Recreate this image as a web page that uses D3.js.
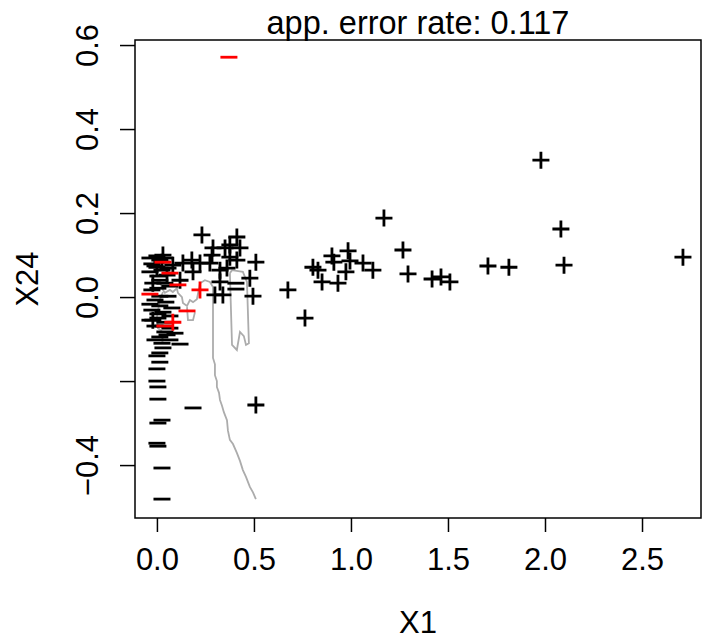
<!DOCTYPE html>
<html>
<head>
<meta charset="utf-8">
<script src="https://cdn.jsdelivr.net/npm/d3@7"></script>
<style>
  body { margin: 0; background: #fff; }
  text { font-family: "Liberation Sans", Arial, sans-serif; fill: #000; }
</style>
</head>
<body>
<svg id="chart"></svg>
<script>
const chartSize = { width: 702, height: 641 };
const frame = { left: 135, right: 701, top: 40, bottom: 518 };

const title = "app. error rate: 0.117";
const xLabel = "X1";
const yLabel = "X24";
const xDomain = [-0.113, 2.804];
const yDomain = [-0.526, 0.612];
const xTicks = [0, 0.5, 1, 1.5, 2, 2.5];
const xTickLabels = ["0.0", "0.5", "1.0", "1.5", "2.0", "2.5"];
const yTicks = [-0.4, -0.2, 0, 0.2, 0.4, 0.6];
const yTickLabels = ["\u22120.4", "", "0.0", "0.2", "0.4", "0.6"];

// class "+" correctly classified
const plusOk = [
  [1.979, 0.326], [2.082, 0.162], [2.098, 0.076], [2.711, 0.095],
  [1.170, 0.188], [1.268, 0.112], [1.294, 0.055], [1.418, 0.043],
  [1.464, 0.048], [1.510, 0.036], [1.706, 0.074], [1.814, 0.071],
  [1.113, 0.064], [1.062, 0.081], [0.985, 0.110], [0.995, 0.086],
  [0.902, 0.098], [0.912, 0.083], [0.974, 0.060], [0.933, 0.033],
  [0.851, 0.036], [0.804, 0.071], [0.830, 0.064], [0.675, 0.017],
  [0.510, 0.083], [0.479, 0.045], [0.495, 0.002], [0.412, 0.143],
  [0.428, 0.117], [0.412, 0.088], [0.763, -0.050], [0.510, -0.257],
  [0.232, 0.148], [0.376, 0.124], [0.289, 0.117], [0.351, 0.117],
  [0.284, 0.100], [0.376, 0.095], [0.180, 0.088], [0.134, 0.081],
  [0.222, 0.081], [0.273, 0.081], [0.325, 0.064], [0.361, 0.069],
  [0.186, 0.060], [0.031, 0.100], [0.026, 0.083], [0.000, 0.071],
  [0.325, 0.036], [0.340, 0.005], [0.299, 0.005], [0.082, 0.076],
  [-0.021, 0.033], [-0.021, -0.055], [0.052, 0.052], [0.119, 0.040]
];
// class "+" misclassified
const plusErr = [[0.222, 0.017], [0.082, -0.060]];
// class "-" correctly classified
const minusOk = [
  [0.000, 0.098], [0.015, 0.088], [-0.010, 0.074], [0.026, 0.064],
  [0.005, 0.050], [0.041, 0.033], [0.005, 0.021], [0.067, 0.026],
  [0.015, 0.002], [-0.010, -0.007], [0.046, -0.012], [0.015, -0.021],
  [-0.026, -0.031], [0.031, -0.036], [0.067, -0.045], [0.005, -0.050],
  [0.041, -0.060], [-0.010, -0.069], [0.067, -0.074], [0.041, -0.083],
  [0.052, -0.090], [0.015, -0.095], [0.026, -0.110], [0.119, -0.112],
  [0.031, -0.121], [0.015, -0.133], [0.000, -0.140], [0.015, -0.155],
  [0.000, -0.171], [0.000, -0.200], [0.005, -0.214], [0.005, -0.243],
  [0.186, -0.264], [0.026, -0.293], [0.005, -0.300], [0.000, -0.348],
  [0.005, -0.355], [0.026, -0.407], [0.026, -0.481], [0.407, 0.033],
  [0.407, 0.019], [-0.036, 0.093], [0.041, 0.093], [-0.026, 0.079],
  [0.057, 0.069], [-0.036, 0.060], [0.015, 0.040], [-0.026, 0.017],
  [0.057, 0.002], [-0.036, -0.017], [0.077, -0.026], [0.005, -0.040],
  [-0.036, -0.055], [0.031, -0.069], [0.093, -0.086], [-0.010, -0.102],
  [0.067, -0.102]
];
// class "-" misclassified
const minusErr = [
  [0.371, 0.571], [-0.036, 0.007], [0.067, 0.057], [0.155, -0.033],
  [0.041, -0.069], [0.031, 0.083], [0.108, 0.029]
];

// partition boundary
const boundaries = [
  [[-0.010, 0.040], [0.015, 0.036], [0.031, 0.017], [0.041, 0.010],
   [0.067, 0.017], [0.082, 0.012], [0.103, 0.021], [0.108, 0.010],
   [0.129, 0.000], [0.134, -0.014], [0.155, -0.021], [0.170, -0.007],
   [0.186, -0.012], [0.206, -0.005], [0.222, 0.033], [0.247, 0.040],
   [0.273, 0.036], [0.289, 0.024], [0.289, -0.145], [0.299, -0.160],
   [0.299, -0.186], [0.309, -0.200], [0.309, -0.214], [0.320, -0.228],
   [0.325, -0.245], [0.335, -0.258], [0.345, -0.274], [0.361, -0.293],
   [0.366, -0.318], [0.376, -0.340], [0.392, -0.350], [0.412, -0.371],
   [0.428, -0.390], [0.443, -0.412], [0.459, -0.428], [0.479, -0.452],
   [0.495, -0.465], [0.510, -0.481]],
  [[0.031, 0.012], [0.015, -0.007], [0.000, -0.048], [0.005, -0.074],
   [0.026, -0.081]],
  [[0.155, -0.024], [0.160, -0.055], [0.186, -0.055], [0.196, -0.036]],
  [[0.376, 0.057], [0.387, -0.114], [0.412, -0.126], [0.428, -0.083],
   [0.448, -0.093], [0.459, -0.114], [0.474, -0.110], [0.464, 0.036],
   [0.443, 0.060], [0.387, 0.064], [0.376, 0.057]]
];

const plusPath = "M-8.5,0H8.5M0,-8.5V8.5";
const minusPath = "M-8.5,0H8.5";

const main = () => {
  const svg = d3.select("#chart")
    .attr("width", chartSize.width)
    .attr("height", chartSize.height);

  const x = d3.scaleLinear().domain(xDomain).range([frame.left, frame.right]);
  const y = d3.scaleLinear().domain(yDomain).range([frame.bottom, frame.top]);

  const line = d3.line().x(d => x(d[0])).y(d => y(d[1]));

  svg.append("g")
    .selectAll("path")
    .data(boundaries)
    .join("path")
    .attr("d", line)
    .attr("fill", "none")
    .attr("stroke", "#acacac")
    .attr("stroke-width", 1.8);

  const drawMarks = (data, shape, colour) => {
    svg.append("g")
      .selectAll("path")
      .data(data)
      .join("path")
      .attr("transform", d => `translate(${x(d[0])},${y(d[1])})`)
      .attr("d", shape)
      .attr("stroke", colour)
      .attr("stroke-width", 2.8)
      .attr("fill", "none");
  };
  drawMarks(minusOk, minusPath, "#000");
  drawMarks(plusOk, plusPath, "#000");
  drawMarks(minusErr, minusPath, "#ff0000");
  drawMarks(plusErr, plusPath, "#ff0000");

  svg.append("rect")
    .attr("x", frame.left)
    .attr("y", frame.top)
    .attr("width", frame.right - frame.left)
    .attr("height", frame.bottom - frame.top)
    .attr("fill", "none")
    .attr("stroke", "#000")
    .attr("stroke-width", 1.5);

  const xAxis = d3.axisBottom(x)
    .tickValues(xTicks)
    .tickSize(14)
    .tickPadding(16)
    .tickFormat((d, i) => xTickLabels[i]);
  const gx = svg.append("g")
    .attr("transform", `translate(0,${frame.bottom})`)
    .call(xAxis);
  gx.select(".domain").remove();
  gx.selectAll("line").attr("stroke-width", 1.5);
  gx.selectAll("text").attr("font-size", 31).attr("font-family", null);

  const yAxis = d3.axisLeft(y)
    .tickValues(yTicks)
    .tickSize(15)
    .tickFormat((d, i) => yTickLabels[i]);
  const gy = svg.append("g")
    .attr("transform", `translate(${frame.left},0)`)
    .call(yAxis);
  gy.select(".domain").remove();
  gy.selectAll("line").attr("stroke-width", 1.5);
  gy.selectAll("text")
    .attr("font-size", 31)
    .attr("font-family", null)
    .attr("x", null)
    .attr("dy", null)
    .attr("text-anchor", "middle")
    .attr("transform", "translate(-37,0) rotate(-90)");

  svg.append("text")
    .attr("x", (frame.left + frame.right) / 2)
    .attr("y", 34)
    .attr("text-anchor", "middle")
    .attr("font-size", 32.5)
    .text(title);

  svg.append("text")
    .attr("x", (frame.left + frame.right) / 2)
    .attr("y", 633)
    .attr("text-anchor", "middle")
    .attr("font-size", 31)
    .text(xLabel);

  svg.append("text")
    .attr("transform", `translate(38,${(frame.top + frame.bottom) / 2}) rotate(-90)`)
    .attr("text-anchor", "middle")
    .attr("font-size", 31)
    .text(yLabel);
};

window.onload = main;
</script>
</body>
</html>
